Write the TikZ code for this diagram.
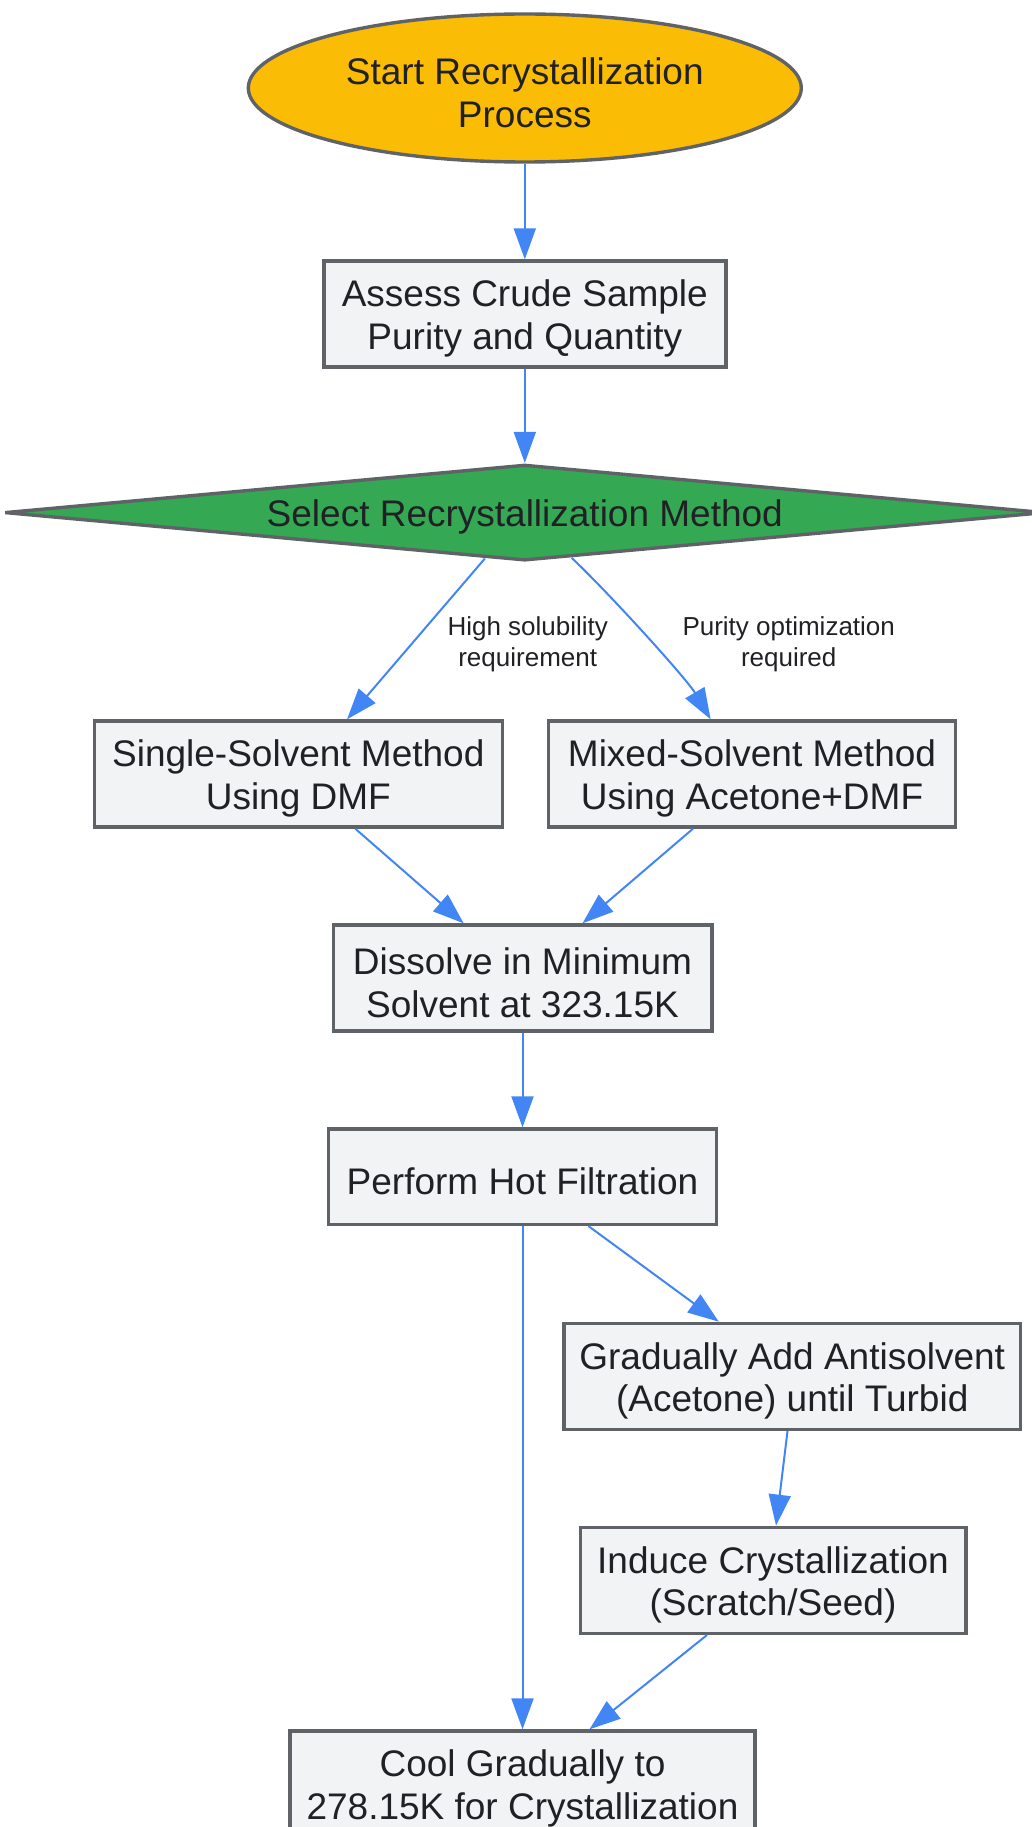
\documentclass[tikz,border=0pt]{standalone}
\usepackage{fontspec}
\setmainfont{Liberation Sans}
\usetikzlibrary{shapes.geometric,arrows.meta,calc}
\definecolor{boxfill}{HTML}{F1F3F4}
\definecolor{boxline}{HTML}{5F6368}
\definecolor{startfill}{HTML}{FBBC05}
\definecolor{decfill}{HTML}{34A853}
\definecolor{edgecol}{HTML}{4285F4}
\definecolor{txt}{HTML}{202124}
\newcommand{\tup}{\rule{0pt}{36pt}}
\newcommand{\lup}{\rule{0pt}{24pt}}
\begin{document}
\begin{tikzpicture}[x=1pt,y=-1pt,
  base/.style={draw=boxline, line width=3.4pt, inner sep=0pt, align=center, text=txt, font=\fontsize{37}{42.5}\selectfont},
  box/.style={base, rectangle, fill=boxfill, minimum height=106pt},
  startnode/.style={base, ellipse, fill=startfill, line width=3.4pt},
  decision/.style={base, diamond, fill=decfill, aspect=12},
  edge/.style={draw=edgecol, line width=2pt, -{Triangle[length=31pt,width=22pt]}},
  elabel/.style={text=txt, align=center, inner sep=0pt, font=\fontsize{26}{31}\selectfont}
]
\useasboundingbox (0,0) rectangle (1031,1827);

\node[startnode, minimum width=553pt, minimum height=148pt] (start) at (524.8,88) {\tup Start Recrystallization\\Process};
\node[box, minimum width=402pt] (assess) at (524.8,314) {\tup Assess Crude Sample\\Purity and Quantity};
\node[decision, minimum width=1031pt, minimum height=96pt] (sel) at (524.8,512.6) {\tup Select Recrystallization Method};
\node[box, minimum width=408pt] (single) at (298.3,774) {\tup Single-Solvent Method\\Using DMF};
\node[box, minimum width=406.6pt] (mixed) at (752,774) {\tup Mixed-Solvent Method\\Using Acetone+DMF};
\node[box, minimum width=378.6pt] (dissolve) at (522.5,978) {\tup Dissolve in Minimum\\Solvent at 323.15K};
\node[box, minimum width=388pt, minimum height=95.4pt] (hot) at (522.5,1176.7) {\tup Perform Hot Filtration};
\node[box, minimum width=456.7pt] (grad) at (792.2,1376.4) {\tup Gradually Add Antisolvent\\(Acetone) until Turbid};
\node[box, minimum width=385.6pt] (induce) at (773,1580.3) {\tup Induce Crystallization\\(Scratch/Seed)};
\node[box, minimum width=465pt] (cool) at (522.5,1784) {\tup Cool Gradually to\\278.15K for Crystallization};

\node[elabel] (l1) at (527.7,642) {\lup High solubility\\requirement};
\node[elabel] (l2) at (788.7,642) {\lup Purity optimization\\required};

\draw[edge] (start) -- (assess);
\draw[edge] (assess) -- (sel);
\draw[edge] (sel.229.6) -- ($(single.north)+(48.7,0)$);
\draw[edge] (sel.316.1) .. controls ($(sel.316.1)+(40,38)$) and ($(mixed.north)+(-65,-40)$) .. ($(mixed.north)+(-41.4,0)$);
\draw[edge] ($(single.south)+(57,0)$) -- ($(dissolve.north)+(-58.8,0)$);
\draw[edge] ($(mixed.south)+(-59,0)$) -- ($(dissolve.north)+(60,0)$);
\draw[edge] (dissolve) -- (hot);
\draw[edge] (hot) -- (cool);
\draw[edge] ($(hot.south)+(66,0)$) -- ($(grad.north)+(-73.4,0)$);
\draw[edge] ($(grad.south)+(-4.7,0)$) -- ($(induce.north)+(3,0)$);
\draw[edge] ($(induce.south)+(-66,0)$) -- ($(cool.north)+(67,0)$);
\end{tikzpicture}
\end{document}
